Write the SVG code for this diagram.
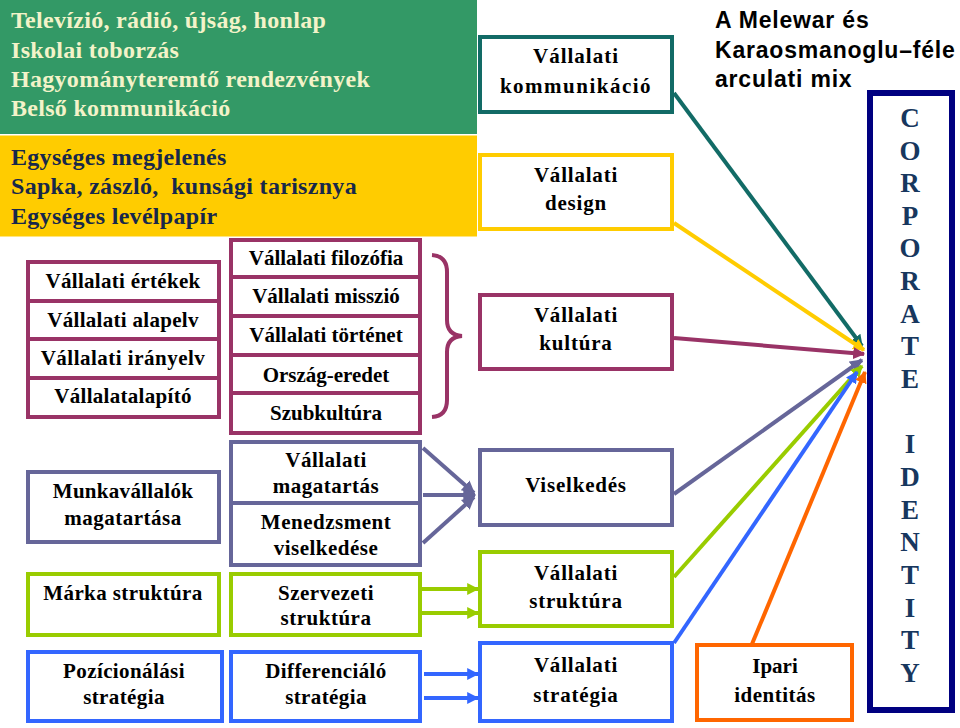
<svg xmlns="http://www.w3.org/2000/svg" width="960" height="728" viewBox="0 0 960 728">
<style>
.t{font-weight:bold;font-size:21px;fill:#000;text-anchor:middle}
.big{font-weight:bold;font-size:24px;letter-spacing:0.3px}
.g{fill:#f3f3c9}
.y{fill:#17284a}
.box{fill:#fff;stroke-width:4}
.pk{stroke:#993366}
.pu{stroke:#666699}
.lm{stroke:#99cc00}
.bl{stroke:#3366ff}
.tl{stroke:#126b66}
.ye{stroke:#ffcc00}
.or{stroke:#ff6600}
.ln{fill:none;stroke-width:4}
.ci{font-weight:bold;font-size:27px;fill:#17375e;text-anchor:middle}
.ttl{font-weight:bold;font-size:23px;letter-spacing:0.8px;fill:#000}
</style>
<defs>
<marker id="aTl" viewBox="0 0 10 10" refX="9" refY="5" markerWidth="12" markerHeight="12" markerUnits="userSpaceOnUse" orient="auto"><path d="M0,0L10,5L0,10z" fill="#126b66"/></marker>
<marker id="aYe" viewBox="0 0 10 10" refX="9" refY="5" markerWidth="12" markerHeight="12" markerUnits="userSpaceOnUse" orient="auto"><path d="M0,0L10,5L0,10z" fill="#ffcc00"/></marker>
<marker id="aPk" viewBox="0 0 10 10" refX="9" refY="5" markerWidth="12" markerHeight="12" markerUnits="userSpaceOnUse" orient="auto"><path d="M0,0L10,5L0,10z" fill="#993366"/></marker>
<marker id="aPu" viewBox="0 0 10 10" refX="9" refY="5" markerWidth="13" markerHeight="13" markerUnits="userSpaceOnUse" orient="auto"><path d="M0,0L10,5L0,10z" fill="#666699"/></marker>
<marker id="aLm" viewBox="0 0 10 10" refX="9" refY="5" markerWidth="12" markerHeight="12" markerUnits="userSpaceOnUse" orient="auto"><path d="M0,0L10,5L0,10z" fill="#99cc00"/></marker>
<marker id="aBl" viewBox="0 0 10 10" refX="9" refY="5" markerWidth="12" markerHeight="12" markerUnits="userSpaceOnUse" orient="auto"><path d="M0,0L10,5L0,10z" fill="#3366ff"/></marker>
<marker id="aOr" viewBox="0 0 10 10" refX="9" refY="5" markerWidth="12" markerHeight="12" markerUnits="userSpaceOnUse" orient="auto"><path d="M0,0L10,5L0,10z" fill="#ff6600"/></marker>
</defs>
<rect width="960" height="728" fill="#fff"/>

<g id="communication-list">
<rect x="0" y="0" width="477" height="134" fill="#339966"/>
<text class="big g" font-family="Liberation Serif, serif" x="11" y="28">Televízió, rádió, újság, honlap</text>
<text class="big g" font-family="Liberation Serif, serif" x="11" y="58">Iskolai toborzás</text>
<text class="big g" font-family="Liberation Serif, serif" x="11" y="87">Hagyományteremtő rendezvények</text>
<text class="big g" font-family="Liberation Serif, serif" x="11" y="116">Belső kommunikáció</text>
</g>
<g id="design-list">
<rect x="0" y="135.5" width="477" height="101" fill="#ffcc00"/>
<text class="big y" font-family="Liberation Serif, serif" x="11" y="165">Egységes megjelenés</text>
<text class="big y" font-family="Liberation Serif, serif" x="11" y="194" xml:space="preserve">Sapka, zászló,  kunsági tarisznya</text>
<text class="big y" font-family="Liberation Serif, serif" x="11" y="224">Egységes levélpapír</text>
</g>

<g id="culture-left">
<rect class="box pk" x="28" y="262" width="191" height="39"/>
<rect class="box pk" x="28" y="301" width="191" height="38"/>
<rect class="box pk" x="28" y="339" width="191" height="39"/>
<rect class="box pk" x="28" y="378" width="191" height="39"/>
<text class="t" font-family="Liberation Serif, serif" x="123" y="288" letter-spacing="0.3">Vállalati értékek</text>
<text class="t" font-family="Liberation Serif, serif" x="123" y="327" letter-spacing="0.3">Vállalati alapelv</text>
<text class="t" font-family="Liberation Serif, serif" x="123" y="365" letter-spacing="0.5">Vállalati irányelv</text>
<text class="t" font-family="Liberation Serif, serif" x="123" y="403" letter-spacing="0.3">Vállalatalapító</text>
</g>
<g id="culture-mid">
<rect class="box pk" x="231" y="240" width="189" height="37"/>
<rect class="box pk" x="231" y="277" width="189" height="39"/>
<rect class="box pk" x="231" y="316" width="189" height="39"/>
<rect class="box pk" x="231" y="355" width="189" height="38"/>
<rect class="box pk" x="231" y="393" width="189" height="40"/>
<text class="t" font-family="Liberation Serif, serif" x="326" y="265">Vállalati filozófia</text>
<text class="t" font-family="Liberation Serif, serif" x="326" y="303">Vállalati misszió</text>
<text class="t" font-family="Liberation Serif, serif" x="326" y="342">Vállalati történet</text>
<text class="t" font-family="Liberation Serif, serif" x="326" y="382">Ország-eredet</text>
<text class="t" font-family="Liberation Serif, serif" x="326" y="420">Szubkultúra</text>
</g>
<g id="brace">
<path class="ln pk" stroke-width="3" d="M432,255 Q447,256 447,272 L447,320 Q447,335 462,336 Q447,337 447,352 L447,400 Q447,416 432,417"/>
</g>

<g id="employees">
<rect class="box pu" x="28" y="472" width="191" height="70"/>
<text class="t" font-family="Liberation Serif, serif" x="123" y="498" letter-spacing="0.3">Munkavállalók</text>
<text class="t" font-family="Liberation Serif, serif" x="123" y="525" letter-spacing="0.5">magatartása</text>
</g>
<g id="behaviour-mid">
<rect class="box pu" x="231" y="442" width="189" height="61"/>
<rect class="box pu" x="231" y="503" width="189" height="62"/>
<text class="t" font-family="Liberation Serif, serif" x="326" y="467" letter-spacing="0.5">Vállalati</text>
<text class="t" font-family="Liberation Serif, serif" x="326" y="493" letter-spacing="0.5">magatartás</text>
<text class="t" font-family="Liberation Serif, serif" x="326" y="529" letter-spacing="0.5">Menedzsment</text>
<text class="t" font-family="Liberation Serif, serif" x="326" y="555" letter-spacing="0.5">viselkedése</text>
</g>

<g id="brand">
<rect class="box lm" x="28" y="574" width="191" height="61"/>
<text class="t" font-family="Liberation Serif, serif" x="123" y="600" letter-spacing="0.4">Márka struktúra</text>
</g>
<g id="org-structure">
<rect class="box lm" x="231" y="574" width="189" height="61"/>
<text class="t" font-family="Liberation Serif, serif" x="326" y="600" letter-spacing="0.5">Szervezeti</text>
<text class="t" font-family="Liberation Serif, serif" x="326" y="625" letter-spacing="0.5">struktúra</text>
</g>

<g id="positioning">
<rect class="box bl" x="28" y="652" width="194" height="69"/>
<text class="t" font-family="Liberation Serif, serif" x="124" y="678" letter-spacing="0.4">Pozícionálási</text>
<text class="t" font-family="Liberation Serif, serif" x="124" y="704" letter-spacing="0.4">stratégia</text>
</g>
<g id="diff-strategy">
<rect class="box bl" x="231" y="652" width="189" height="69"/>
<text class="t" font-family="Liberation Serif, serif" x="326" y="678" letter-spacing="0.4">Differenciáló</text>
<text class="t" font-family="Liberation Serif, serif" x="326" y="704" letter-spacing="0.4">stratégia</text>
</g>

<g id="corp-communication">
<rect class="box tl" x="480" y="37" width="192" height="75"/>
<text class="t" font-family="Liberation Serif, serif" x="576" y="63" letter-spacing="1">Vállalati</text>
<text class="t" font-family="Liberation Serif, serif" x="576" y="93" letter-spacing="1.5">kommunikáció</text>
</g>
<g id="corp-design">
<rect class="box ye" x="480" y="155" width="192" height="74"/>
<text class="t" font-family="Liberation Serif, serif" x="576" y="182" letter-spacing="0.8">Vállalati</text>
<text class="t" font-family="Liberation Serif, serif" x="576" y="210" letter-spacing="0.8">design</text>
</g>
<g id="corp-culture">
<rect class="box pk" x="480" y="295" width="192" height="74"/>
<text class="t" font-family="Liberation Serif, serif" x="576" y="322" letter-spacing="0.8">Vállalati</text>
<text class="t" font-family="Liberation Serif, serif" x="576" y="350" letter-spacing="0.8">kultúra</text>
</g>
<g id="behaviour">
<rect class="box pu" x="480" y="450" width="192" height="75"/>
<text class="t" font-family="Liberation Serif, serif" x="576" y="492" letter-spacing="0.8">Viselkedés</text>
</g>
<g id="corp-structure">
<rect class="box lm" x="480" y="552" width="192" height="74"/>
<text class="t" font-family="Liberation Serif, serif" x="576" y="580" letter-spacing="0.8">Vállalati</text>
<text class="t" font-family="Liberation Serif, serif" x="576" y="608" letter-spacing="0.8">struktúra</text>
</g>
<g id="corp-strategy">
<rect class="box bl" x="480" y="643" width="192" height="78"/>
<text class="t" font-family="Liberation Serif, serif" x="576" y="672" letter-spacing="0.8">Vállalati</text>
<text class="t" font-family="Liberation Serif, serif" x="576" y="702" letter-spacing="0.8">stratégia</text>
</g>
<g id="industry">
<rect class="box or" x="697" y="645" width="155" height="75"/>
<text class="t" font-family="Liberation Serif, serif" x="775" y="673">Ipari</text>
<text class="t" font-family="Liberation Serif, serif" x="775" y="702" letter-spacing="0.5">identitás</text>
</g>

<g id="title">
<text class="ttl" font-family="Liberation Sans, sans-serif" x="715" y="28">A Melewar és</text>
<text class="ttl" font-family="Liberation Sans, sans-serif" x="715" y="58">Karaosmanoglu–féle</text>
<text class="ttl" font-family="Liberation Sans, sans-serif" x="715" y="87">arculati mix</text>
</g>
<g id="corporate-identity">
<rect x="870" y="93" width="82" height="617" fill="#fff" stroke="#000080" stroke-width="6"/>
<text class="ci" font-family="Liberation Serif, serif" x="910" y="127">C</text>
<text class="ci" font-family="Liberation Serif, serif" x="910" y="160">O</text>
<text class="ci" font-family="Liberation Serif, serif" x="910" y="192">R</text>
<text class="ci" font-family="Liberation Serif, serif" x="910" y="225">P</text>
<text class="ci" font-family="Liberation Serif, serif" x="910" y="257">O</text>
<text class="ci" font-family="Liberation Serif, serif" x="910" y="290">R</text>
<text class="ci" font-family="Liberation Serif, serif" x="910" y="323">A</text>
<text class="ci" font-family="Liberation Serif, serif" x="910" y="355">T</text>
<text class="ci" font-family="Liberation Serif, serif" x="910" y="388">E</text>
<text class="ci" font-family="Liberation Serif, serif" x="910" y="453">I</text>
<text class="ci" font-family="Liberation Serif, serif" x="910" y="486">D</text>
<text class="ci" font-family="Liberation Serif, serif" x="910" y="519">E</text>
<text class="ci" font-family="Liberation Serif, serif" x="910" y="551">N</text>
<text class="ci" font-family="Liberation Serif, serif" x="910" y="584">T</text>
<text class="ci" font-family="Liberation Serif, serif" x="910" y="617">I</text>
<text class="ci" font-family="Liberation Serif, serif" x="910" y="649">T</text>
<text class="ci" font-family="Liberation Serif, serif" x="910" y="682">Y</text>
</g>

<g id="connectors">
<line class="ln pu" x1="423" y1="448" x2="474" y2="493" marker-end="url(#aPu)"/>
<line class="ln pu" x1="423" y1="495" x2="475" y2="495" marker-end="url(#aPu)"/>
<line class="ln pu" x1="423" y1="543" x2="474" y2="497" marker-end="url(#aPu)"/>
<line class="ln lm" x1="418" y1="589" x2="478" y2="589" marker-end="url(#aLm)"/>
<line class="ln lm" x1="418" y1="613" x2="478" y2="613" marker-end="url(#aLm)"/>
<line class="ln bl" x1="424" y1="674" x2="478" y2="674" marker-end="url(#aBl)"/>
<line class="ln bl" x1="424" y1="698" x2="478" y2="698" marker-end="url(#aBl)"/>
<line class="ln tl" x1="674" y1="93" x2="862" y2="346" marker-end="url(#aTl)"/>
<line class="ln ye" x1="674" y1="223" x2="864" y2="350" marker-end="url(#aYe)"/>
<line class="ln pk" x1="674" y1="338" x2="864" y2="354" marker-end="url(#aPk)"/>
<line class="ln pu" x1="674" y1="494" x2="862" y2="360" marker-end="url(#aPu)"/>
<line class="ln lm" x1="674" y1="577" x2="862" y2="366" marker-end="url(#aLm)"/>
<line class="ln bl" x1="674" y1="643" x2="857" y2="372" marker-end="url(#aBl)"/>
<line class="ln or" x1="752" y1="644" x2="865" y2="372" marker-end="url(#aOr)"/>
</g>
</svg>
